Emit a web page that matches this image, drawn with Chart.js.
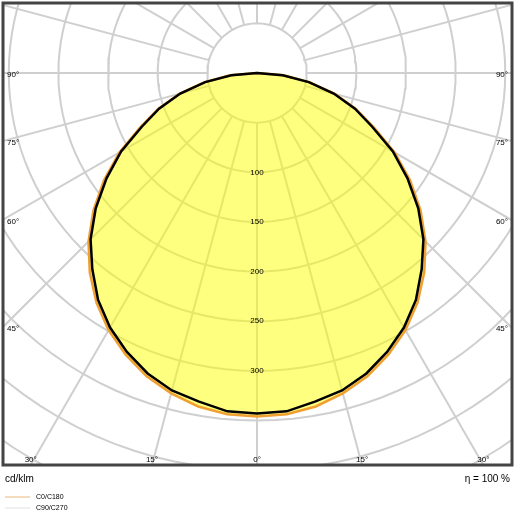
<!DOCTYPE html>
<html>
<head>
<meta charset="utf-8">
<script src="https://cdn.jsdelivr.net/npm/chart.js@4.4.0/dist/chart.umd.min.js"></script>
<style>
  html, body { margin: 0; padding: 0; background: #fff; }
  #wrap { width: 515px; height: 515px; }
</style>
</head>
<body>
<div id="wrap"><canvas id="ldc"></canvas></div>
<script>
// gamma angles (deg) and intensities in cd/klm
const angles = [0, 5, 10, 15, 20, 25, 30, 35, 40, 45, 50, 55, 60, 65, 70, 75, 80, 85, 90];
const c0c180 = [346, 345, 341, 334, 325, 313, 299, 282, 262, 240, 215, 188, 160, 130, 106, 81, 54, 27, 0];
const c90c270 = [343, 342, 336, 331, 322, 310, 296, 279, 258, 237, 212, 185, 158, 128, 105, 80, 53, 26, 0];
const radialTicks = [100, 150, 200, 250, 300];
const gridRadii = [50, 100, 150, 200, 250, 300, 350, 400, 450, 500, 550, 600];
const spokeAngles = [-165, -150, -135, -120, -105, -90, -75, -60, -45, -30, -15, 0, 15, 30, 45, 60, 75, 90, 105, 120, 135, 150, 165, 180];
const edgeLabels = [
    { a: 90, side: 'v' }, { a: 75, side: 'v' }, { a: 60, side: 'v' }, { a: 45, side: 'v' },
    { a: 30, side: 'h' }, { a: 15, side: 'h' }, { a: 0, side: 'h' }
];

const rad = d => d * Math.PI / 180;
const polar = (r, a) => ({ x: r * Math.sin(rad(a)), y: -r * Math.cos(rad(a)) });

function curve(vals) {
    const pts = [];
    for (let i = angles.length - 1; i >= 0; i--) pts.push(polar(vals[i], -angles[i]));
    for (let i = 1; i < angles.length; i++) pts.push(polar(vals[i], angles[i]));
    return pts;
}

const datasets = [];
gridRadii.forEach(r => {
    const pts = [];
    for (let a = 0; a <= 360; a += 3) pts.push(polar(r, a));
    datasets.push({ data: pts, showLine: true, borderColor: '#cfcfcf', borderWidth: 2, pointRadius: 0, fill: false, order: 3 });
});
spokeAngles.forEach(a => {
    datasets.push({ data: [polar(50, a), polar(800, a)], showLine: true, borderColor: '#cfcfcf', borderWidth: 2, pointRadius: 0, fill: false, order: 3 });
});
datasets.push({ label: 'C0/C180', data: curve(c0c180), showLine: true, borderColor: '#f0a030', borderWidth: 2.5,
    backgroundColor: 'rgba(255,255,0,0.5)', fill: 'shape', pointRadius: 0, order: 2 });
datasets.push({ label: 'C90/C270', data: curve(c90c270), showLine: true, borderColor: '#000', borderWidth: 2.5,
    pointRadius: 0, fill: false, order: 1 });

const pxPerUnit = 0.993;
const boxCx = 257, boxCy = 73, boxL = 3, boxR = 512, boxT = 3, boxB = 465;

const decor = {
    id: 'decor',
    afterDraw(chart) {
        const { ctx, chartArea: ca, scales: { x, y } } = chart;
        ctx.save();
        ctx.fillStyle = '#000';
        ctx.font = '8px "Liberation Sans", Arial, sans-serif';
        ctx.textAlign = 'center';
        ctx.textBaseline = 'middle';
        radialTicks.forEach(t => ctx.fillText(String(t), x.getPixelForValue(0), y.getPixelForValue(-t)));

        const ox = x.getPixelForValue(0), oy = y.getPixelForValue(0);
        edgeLabels.forEach(l => {
            const s = Math.sin(rad(l.a)), c = Math.cos(rad(l.a));
            if (l.side === 'v') {
                const d = (ox - ca.left) / s;
                const py = oy + d * c;
                ctx.textAlign = 'left';
                ctx.fillText(l.a + '°', ca.left + 4, py + 2);
                ctx.textAlign = 'right';
                ctx.fillText(l.a + '°', ca.right - 4, py + 2);
            } else {
                const d = (ca.bottom - oy) / c;
                const dx = d * s;
                ctx.textAlign = 'center';
                ctx.fillText(l.a + '°', ox - dx, ca.bottom - 5);
                if (l.a !== 0) ctx.fillText(l.a + '°', ox + dx, ca.bottom - 5);
            }
        });

        ctx.strokeStyle = '#444';
        ctx.lineWidth = 3;
        ctx.strokeRect(ca.left, ca.top, ca.right - ca.left, ca.bottom - ca.top);

        ctx.font = '10px "Liberation Sans", Arial, sans-serif';
        ctx.textAlign = 'left';
        ctx.fillText('cd/klm', 5, 479);
        ctx.textAlign = 'right';
        ctx.fillText('η = 100 %', 510, 479);

        ctx.font = '7px "Liberation Sans", Arial, sans-serif';
        ctx.textAlign = 'left';
        ctx.lineWidth = 1;
        ctx.strokeStyle = '#e8b878';
        ctx.beginPath(); ctx.moveTo(5, 497); ctx.lineTo(30, 497); ctx.stroke();
        ctx.fillText('C0/C180', 36, 497);
        ctx.strokeStyle = '#e0e0e0';
        ctx.beginPath(); ctx.moveTo(5, 508); ctx.lineTo(30, 508); ctx.stroke();
        ctx.fillText('C90/C270', 36, 508);
        ctx.restore();
    }
};

new Chart(document.getElementById('ldc'), {
    type: 'scatter',
    data: { datasets },
    options: {
        responsive: true,
        maintainAspectRatio: false,
        animation: false,
        layout: { padding: { left: boxL, right: 515 - boxR, top: boxT, bottom: 515 - boxB } },
        plugins: { legend: { display: false }, tooltip: { enabled: false } },
        scales: {
            x: { display: false, min: -(boxCx - boxL) / pxPerUnit, max: (boxR - boxCx) / pxPerUnit },
            y: { display: false, min: -(boxB - boxCy) / pxPerUnit, max: (boxCy - boxT) / pxPerUnit }
        }
    },
    plugins: [decor]
});
</script>
</body>
</html>
